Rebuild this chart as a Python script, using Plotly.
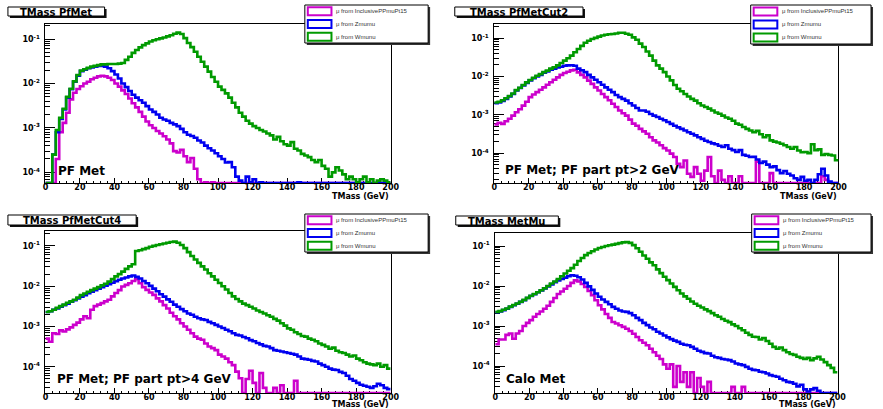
import math
import plotly.graph_objects as go

W, H = 883, 409

# ---------------- data ----------------
bin_edges = list(range(0, 202, 2))          # 100 bins of 2 GeV, 0..200
x_tick_vals = list(range(0, 201, 20))
y_tick_vals = [1e-4, 1e-3, 1e-2, 1e-1]
y_tick_text = ["10<sup>-4</sup>", "10<sup>-3</sup>", "10<sup>-2</sup>", "10<sup>-1</sup>"]
legend_labels = ["\u03bc from InclusivePPmuPt15", "\u03bc from Zmumu", "\u03bc from Wmunu"]
panel_titles = ["TMass PfMet", "TMass PfMetCut2", "TMass PfMetCut4", "TMass MetMu"]
panel_notes = ["PF Met", "PF Met; PF part pt>2 GeV", "PF Met; PF part pt>4 GeV", "Calo Met"]
x_title = "TMass (GeV)"

pfmet_incl = [
    0, 0, 0, 2e-4, 8e-4, 1.3e-3, 2.2e-3, 4.4e-3, 6.2e-3, 7.5e-3,
    8.7e-3, 1.0e-2, 1.1e-2, 1.25e-2, 1.35e-2, 1.45e-2, 1.5e-2, 1.45e-2, 1.35e-2, 1.2e-2,
    1.0e-2, 8.5e-3, 7.0e-3, 5.8e-3, 4.6e-3, 3.6e-3, 2.9e-3, 2.3e-3, 1.8e-3, 1.4e-3,
    1.15e-3, 1.0e-3, 8.5e-4, 7.5e-4, 6.5e-4, 5.5e-4, 4.5e-4, 3.0e-4, 2.8e-4, 3.2e-4,
    2.3e-4, 1.7e-4, 2.1e-4, 1.2e-4, 7e-5, 0, 6e-5, 0, 6e-5, 0,
    0, 0, 0, 0, 0, 0, 0, 0, 0, 0,
    0, 0, 0, 0, 0, 0, 0, 0, 0, 0,
    0, 0, 0, 0, 0, 0, 0, 0, 0, 0,
    0, 0, 0, 0, 0, 0, 0, 0, 0, 0,
    0, 0, 0, 0, 0, 0, 0, 0, 0, 0,
]
pfmet_z = [
    0, 0, 2.5e-4, 8e-4, 1.6e-3, 2.6e-3, 4.8e-3, 7.4e-3, 1.1e-2, 1.5e-2,
    1.9e-2, 2.05e-2, 2.2e-2, 2.3e-2, 2.4e-2, 2.5e-2, 2.5e-2, 2.4e-2, 2.2e-2, 1.9e-2,
    1.6e-2, 1.3e-2, 1.0e-2, 8.3e-3, 6.8e-3, 5.6e-3, 4.8e-3, 4.2e-3, 3.7e-3, 3.1e-3,
    2.6e-3, 2.3e-3, 2.0e-3, 1.7e-3, 1.55e-3, 1.45e-3, 1.3e-3, 1.2e-3, 1.1e-3, 9.5e-4,
    8e-4, 7e-4, 6.6e-4, 6e-4, 5.2e-4, 4.7e-4, 4.0e-4, 3.5e-4, 3.1e-4, 2.7e-4,
    2.3e-4, 2.0e-4, 1.66e-4, 1.7e-4, 1.3e-4, 8e-5, 6.5e-5, 0, 8e-5, 6e-5,
    7e-5, 0, 6e-5, 0, 0, 0, 0, 0, 0, 0,
    0, 0, 0, 6e-5, 0, 0, 0, 0, 0, 0,
    0, 0, 0, 0, 0, 0, 0, 0, 0, 0,
    0, 0, 0, 0, 0, 0, 0, 0, 0, 0,
]
pfmet_w = [
    0, 0, 2.5e-4, 9e-4, 1.7e-3, 2.7e-3, 5.0e-3, 7.6e-3, 1.12e-2, 1.55e-2,
    1.95e-2, 2.1e-2, 2.25e-2, 2.4e-2, 2.5e-2, 2.6e-2, 2.7e-2, 2.7e-2, 2.75e-2, 2.75e-2,
    2.75e-2, 2.8e-2, 2.9e-2, 3.4e-2, 4.0e-2, 4.9e-2, 5.7e-2, 6.5e-2, 7.3e-2, 8.0e-2,
    8.8e-2, 9.4e-2, 9.9e-2, 1.04e-1, 1.09e-1, 1.15e-1, 1.22e-1, 1.32e-1, 1.4e-1, 1.3e-1,
    1.05e-1, 8.2e-2, 6.6e-2, 5.2e-2, 4.0e-2, 3.1e-2, 2.4e-2, 1.85e-2, 1.4e-2, 1.1e-2,
    8.5e-3, 7.2e-3, 6.0e-3, 4.8e-3, 3.7e-3, 2.9e-3, 2.2e-3, 1.8e-3, 1.45e-3, 1.25e-3,
    1.1e-3, 1.0e-3, 9.0e-4, 8.3e-4, 7.5e-4, 6.8e-4, 5.5e-4, 6.3e-4, 5.0e-4, 4.3e-4,
    4.0e-4, 4.8e-4, 3.4e-4, 3.1e-4, 2.6e-4, 2.4e-4, 2.2e-4, 1.9e-4, 1.7e-4, 1.9e-4,
    1.4e-4, 1.2e-4, 8e-5, 1.0e-4, 1.3e-4, 1.1e-4, 9e-5, 7e-5, 8e-5, 7e-5,
    6e-5, 7e-5, 8e-5, 6e-5, 7e-5, 0, 6.5e-5, 7e-5, 6.5e-5, 6e-5,
]

cut2_incl = [
    5.6e-4, 6.2e-4, 5.8e-4, 6.8e-4, 7.9e-4, 9.5e-4, 1.17e-3, 1.4e-3, 1.74e-3, 2.2e-3,
    2.9e-3, 3.4e-3, 3.9e-3, 4.5e-3, 5.2e-3, 6.1e-3, 7.1e-3, 8.2e-3, 9.5e-3, 1.1e-2,
    1.23e-2, 1.33e-2, 1.44e-2, 1.5e-2, 1.28e-2, 1.1e-2, 9.5e-3, 7.8e-3, 6.4e-3, 5.2e-3,
    4.3e-3, 3.5e-3, 2.9e-3, 2.4e-3, 1.95e-3, 1.6e-3, 1.3e-3, 1.1e-3, 9.5e-4, 7.5e-4,
    5.9e-4, 5.2e-4, 4.3e-4, 3.7e-4, 3.2e-4, 2.6e-4, 2.15e-4, 1.9e-4, 1.6e-4, 1.35e-4,
    1.17e-4, 9.7e-5, 7.9e-5, 5.3e-5, 4.3e-5, 6.4e-5, 2.9e-5, 2.4e-5, 4.3e-5, 2.9e-5,
    1.9e-5, 3.5e-5, 7.9e-5, 2.5e-5, 0, 3.5e-5, 2.0e-5, 0, 2.5e-5, 0,
    0, 2.5e-5, 0, 0, 0, 0, 6e-5, 0, 0, 0,
    3e-5, 0, 0, 0, 0, 0, 0, 0, 0, 0,
    0, 0, 0, 0, 0, 2.5e-5, 2.0e-5, 0, 0, 0,
]
cut2_z = [
    2.0e-3, 2.1e-3, 2.3e-3, 2.6e-3, 3.0e-3, 3.5e-3, 4.3e-3, 5.0e-3, 5.8e-3, 6.8e-3,
    7.9e-3, 9.0e-3, 1.0e-2, 1.1e-2, 1.25e-2, 1.35e-2, 1.5e-2, 1.6e-2, 1.72e-2, 1.8e-2,
    1.9e-2, 1.95e-2, 1.97e-2, 1.9e-2, 1.6e-2, 1.45e-2, 1.3e-2, 1.1e-2, 9.5e-3, 8.2e-3,
    7.1e-3, 6.1e-3, 5.2e-3, 4.5e-3, 3.9e-3, 3.3e-3, 2.9e-3, 2.6e-3, 2.35e-3, 2.0e-3,
    1.75e-3, 1.5e-3, 1.3e-3, 1.3e-3, 1.2e-3, 1.05e-3, 9.5e-4, 8.8e-4, 7.9e-4, 7.2e-4,
    6.5e-4, 5.8e-4, 5.2e-4, 4.7e-4, 4.3e-4, 3.9e-4, 3.5e-4, 3.2e-4, 2.9e-4, 2.6e-4,
    2.35e-4, 2.1e-4, 1.95e-4, 1.8e-4, 1.7e-4, 1.55e-4, 1.45e-4, 1.6e-4, 1.3e-4, 1.2e-4,
    1.07e-4, 1.2e-4, 9e-5, 8.5e-5, 7.9e-5, 8.0e-5, 6.8e-5, 5.5e-5, 6e-5, 5e-5,
    4.3e-5, 4.5e-5, 3.6e-5, 3.0e-5, 3.4e-5, 2.9e-5, 2.6e-5, 2.2e-5, 2.0e-5, 2.4e-5,
    1.9e-5, 2.0e-5, 0, 2.0e-5, 2.8e-5, 3.9e-5, 2.6e-5, 1.8e-5, 0, 0,
]
cut2_w = [
    2.1e-3, 2.2e-3, 2.4e-3, 2.7e-3, 3.1e-3, 3.6e-3, 4.4e-3, 5.1e-3, 6.0e-3, 7.0e-3,
    8.1e-3, 9.3e-3, 1.05e-2, 1.15e-2, 1.3e-2, 1.42e-2, 1.6e-2, 1.75e-2, 1.95e-2, 2.25e-2,
    2.6e-2, 3.0e-2, 3.5e-2, 4.3e-2, 5.2e-2, 6.3e-2, 7.6e-2, 8.6e-2, 9.5e-2, 1.02e-1,
    1.1e-1, 1.17e-1, 1.23e-1, 1.27e-1, 1.29e-1, 1.33e-1, 1.38e-1, 1.38e-1, 1.3e-1, 1.23e-1,
    1.05e-1, 9.1e-2, 7.2e-2, 5.9e-2, 4.5e-2, 3.5e-2, 2.6e-2, 1.95e-2, 1.6e-2, 1.3e-2,
    1.0e-2, 7.9e-3, 6.0e-3, 4.8e-3, 4.1e-3, 3.5e-3, 3.0e-3, 2.6e-3, 2.35e-3, 2.0e-3,
    1.75e-3, 1.6e-3, 1.45e-3, 1.3e-3, 1.15e-3, 1.07e-3, 9.5e-4, 8.5e-4, 7.9e-4, 7.0e-4,
    5.9e-4, 5.5e-4, 4.8e-4, 4.3e-4, 3.9e-4, 3.5e-4, 3.8e-4, 3.1e-4, 2.6e-4, 2.9e-4,
    2.15e-4, 2.0e-4, 1.9e-4, 1.75e-4, 1.6e-4, 1.45e-4, 1.3e-4, 1.45e-4, 1.17e-4, 1.05e-4,
    1.07e-4, 1.0e-4, 1.7e-4, 1.2e-4, 1.25e-4, 9e-5, 9.5e-5, 9e-5, 8.7e-5, 6.5e-5,
]

cut4_incl = [
    5.0e-4, 4.2e-4, 6.8e-4, 6.5e-4, 8.0e-4, 7.5e-4, 8.5e-4, 9.5e-4, 1.1e-3, 1.25e-3,
    1.5e-3, 1.8e-3, 1.6e-3, 2.6e-3, 3.2e-3, 3.5e-3, 3.8e-3, 4.2e-3, 4.6e-3, 5.6e-3,
    6.8e-3, 8.0e-3, 9.8e-3, 1.08e-2, 1.18e-2, 1.35e-2, 1.5e-2, 1.18e-2, 9.5e-3, 8.1e-3,
    7.0e-3, 6.1e-3, 5.0e-3, 4.2e-3, 3.4e-3, 2.8e-3, 2.2e-3, 1.8e-3, 1.5e-3, 1.2e-3,
    1.0e-3, 8.3e-4, 6.8e-4, 5.6e-4, 5.0e-4, 4.7e-4, 3.8e-4, 3.2e-4, 2.9e-4, 2.6e-4,
    2.0e-4, 1.8e-4, 1.6e-4, 1.3e-4, 1.1e-4, 7.6e-5, 5.2e-5, 0, 5e-5, 8e-5,
    4e-5, 0, 7e-5, 3e-5, 0, 0, 3e-5, 0, 3.5e-5, 0,
    0, 0, 4.5e-5, 0, 0, 0, 0, 0, 0, 0,
    0, 0, 0, 0, 0, 0, 0, 0, 0, 0,
    0, 0, 0, 0, 0, 0, 0, 0, 0, 0,
]
cut4_z = [
    2.3e-3, 2.4e-3, 2.6e-3, 2.8e-3, 3.1e-3, 3.4e-3, 3.7e-3, 4.1e-3, 4.5e-3, 5.0e-3,
    5.5e-3, 6.0e-3, 6.7e-3, 7.3e-3, 8.0e-3, 8.7e-3, 9.5e-3, 1.03e-2, 1.12e-2, 1.22e-2,
    1.33e-2, 1.45e-2, 1.55e-2, 1.65e-2, 1.75e-2, 1.85e-2, 1.7e-2, 1.55e-2, 1.35e-2, 1.18e-2,
    1.02e-2, 8.7e-3, 7.5e-3, 6.3e-3, 5.5e-3, 4.7e-3, 4.1e-3, 3.5e-3, 3.1e-3, 2.7e-3,
    2.4e-3, 2.1e-3, 1.95e-3, 1.75e-3, 1.6e-3, 1.5e-3, 1.45e-3, 1.3e-3, 1.2e-3, 1.1e-3,
    1.0e-3, 9.2e-4, 8.3e-4, 7.6e-4, 6.8e-4, 6.2e-4, 6.0e-4, 5.5e-4, 5.1e-4, 4.6e-4,
    4.3e-4, 3.9e-4, 3.6e-4, 3.3e-4, 3.2e-4, 2.9e-4, 2.6e-4, 2.5e-4, 2.4e-4, 2.3e-4,
    2.2e-4, 2.1e-4, 2.0e-4, 1.8e-4, 1.6e-4, 1.55e-4, 1.5e-4, 1.4e-4, 1.35e-4, 1.2e-4,
    1.1e-4, 1.0e-4, 9.0e-5, 8.5e-5, 8.3e-5, 7.5e-5, 7.0e-5, 6.0e-5, 5.0e-5, 4.5e-5,
    4.0e-5, 3.6e-5, 3.4e-5, 3.2e-5, 3.0e-5, 3.3e-5, 3.8e-5, 3.5e-5, 3.0e-5, 2.8e-5,
]
cut4_w = [
    2.3e-3, 2.4e-3, 2.6e-3, 2.9e-3, 3.2e-3, 3.5e-3, 3.9e-3, 4.2e-3, 4.6e-3, 5.2e-3,
    6.0e-3, 6.6e-3, 7.3e-3, 8.0e-3, 8.7e-3, 9.5e-3, 1.05e-2, 1.15e-2, 1.3e-2, 1.5e-2,
    1.75e-2, 2.0e-2, 2.3e-2, 2.7e-2, 3.1e-2, 3.5e-2, 7.5e-2, 7.8e-2, 8.3e-2, 8.8e-2,
    9.5e-2, 1.0e-1, 1.05e-1, 1.1e-1, 1.15e-1, 1.2e-1, 1.25e-1, 1.28e-1, 1.2e-1, 1.05e-1,
    8.8e-2, 7.0e-2, 5.6e-2, 4.6e-2, 3.8e-2, 3.1e-2, 2.6e-2, 2.1e-2, 1.75e-2, 1.45e-2,
    1.2e-2, 1.0e-2, 8.3e-3, 6.8e-3, 5.6e-3, 4.8e-3, 4.2e-3, 3.7e-3, 3.4e-3, 3.1e-3,
    2.8e-3, 2.5e-3, 2.3e-3, 2.1e-3, 1.9e-3, 1.75e-3, 1.55e-3, 1.4e-3, 1.2e-3, 1.05e-3,
    9.0e-4, 8.3e-4, 7.2e-4, 6.5e-4, 5.8e-4, 5.6e-4, 5.0e-4, 4.7e-4, 4.3e-4, 3.8e-4,
    3.5e-4, 3.2e-4, 2.8e-4, 3.0e-4, 2.5e-4, 2.3e-4, 2.2e-4, 2.0e-4, 1.8e-4, 1.9e-4,
    1.6e-4, 1.45e-4, 1.3e-4, 1.2e-4, 1.15e-4, 1.1e-4, 1.2e-4, 1.0e-4, 1.1e-4, 9e-5,
]

metmu_incl = [
    3.5e-4, 4.6e-4, 4.6e-4, 6.0e-4, 6.5e-4, 4.8e-4, 6.5e-4, 7.5e-4, 1.0e-3, 1.2e-3,
    1.4e-3, 1.7e-3, 2.0e-3, 2.3e-3, 2.7e-3, 3.2e-3, 4.0e-3, 5.0e-3, 6.3e-3, 7.3e-3,
    8.5e-3, 1.0e-2, 1.2e-2, 1.38e-2, 1.3e-2, 1.12e-2, 9.4e-3, 7.5e-3, 5.9e-3, 4.4e-3,
    3.3e-3, 2.6e-3, 2.0e-3, 1.6e-3, 1.26e-3, 1.15e-3, 1.04e-3, 9.5e-4, 8.5e-4, 7.5e-4,
    6.4e-4, 5.3e-4, 4.4e-4, 3.8e-4, 3.3e-4, 2.7e-4, 2.2e-4, 1.8e-4, 1.5e-4, 1.1e-4,
    8.5e-5, 1.1e-4, 3e-5, 1.0e-4, 4e-5, 7e-5, 3e-5, 7e-5, 0, 5e-5,
    3e-5, 0, 4e-5, 0, 0, 0, 0, 0, 0, 3e-5,
    0, 0, 3e-5, 0, 0, 0, 0, 0, 0, 0,
    0, 0, 0, 0, 0, 0, 0, 0, 0, 0,
    0, 0, 0, 0, 0, 0, 0, 0, 0, 0,
]
metmu_z = [
    2.2e-3, 2.3e-3, 2.5e-3, 2.7e-3, 3.0e-3, 3.3e-3, 3.6e-3, 4.0e-3, 4.4e-3, 5.0e-3,
    5.6e-3, 6.2e-3, 7.0e-3, 7.7e-3, 8.7e-3, 9.8e-3, 1.1e-2, 1.25e-2, 1.38e-2, 1.5e-2,
    1.62e-2, 1.75e-2, 1.85e-2, 1.8e-2, 1.65e-2, 1.45e-2, 1.2e-2, 9.8e-3, 8.0e-3, 6.5e-3,
    5.4e-3, 4.6e-3, 4.0e-3, 3.5e-3, 3.0e-3, 2.7e-3, 2.45e-3, 2.3e-3, 2.25e-3, 2.1e-3,
    1.85e-3, 1.6e-3, 1.4e-3, 1.2e-3, 1.05e-3, 9.2e-4, 8.3e-4, 7.2e-4, 6.5e-4, 5.8e-4,
    5.2e-4, 4.7e-4, 4.3e-4, 4.0e-4, 3.6e-4, 3.4e-4, 3.3e-4, 3.0e-4, 2.7e-4, 2.4e-4,
    2.25e-4, 2.1e-4, 2.05e-4, 1.8e-4, 1.65e-4, 1.6e-4, 1.5e-4, 1.45e-4, 1.4e-4, 1.3e-4,
    1.15e-4, 1.1e-4, 1.05e-4, 9.5e-5, 8.5e-5, 8.0e-5, 7.8e-5, 7.2e-5, 7.0e-5, 6.5e-5,
    5.9e-5, 5.6e-5, 5.4e-5, 4.8e-5, 4.4e-5, 4.0e-5, 3.9e-5, 3.6e-5, 3.1e-5, 3.4e-5,
    2.6e-5, 2.3e-5, 2.6e-5, 2.8e-5, 2.4e-5, 0, 0, 0, 0, 0,
]
metmu_w = [
    2.25e-3, 2.35e-3, 2.55e-3, 2.75e-3, 3.05e-3, 3.35e-3, 3.65e-3, 4.05e-3, 4.5e-3, 5.05e-3,
    5.7e-3, 6.3e-3, 7.0e-3, 7.8e-3, 8.8e-3, 1.0e-2, 1.15e-2, 1.3e-2, 1.5e-2, 1.75e-2,
    2.05e-2, 2.4e-2, 2.8e-2, 3.4e-2, 4.2e-2, 5.0e-2, 5.9e-2, 6.7e-2, 7.4e-2, 8.2e-2,
    8.9e-2, 9.4e-2, 1.0e-1, 1.04e-1, 1.08e-1, 1.13e-1, 1.18e-1, 1.23e-1, 1.26e-1, 1.2e-1,
    1.05e-1, 8.8e-2, 7.2e-2, 5.8e-2, 4.8e-2, 3.9e-2, 3.3e-2, 2.6e-2, 2.1e-2, 1.7e-2,
    1.4e-2, 1.15e-2, 9.5e-3, 7.8e-3, 6.5e-3, 5.5e-3, 4.8e-3, 4.1e-3, 3.6e-3, 3.2e-3,
    2.9e-3, 2.6e-3, 2.35e-3, 2.1e-3, 1.85e-3, 1.7e-3, 1.5e-3, 1.35e-3, 1.25e-3, 1.1e-3,
    1.0e-3, 8.8e-4, 7.8e-4, 6.8e-4, 6.0e-4, 5.4e-4, 5.3e-4, 4.6e-4, 5.0e-4, 4.2e-4,
    3.6e-4, 3.0e-4, 2.7e-4, 2.9e-4, 2.5e-4, 2.2e-4, 2.0e-4, 1.9e-4, 1.7e-4, 1.6e-4,
    1.5e-4, 1.6e-4, 1.4e-4, 1.55e-4, 1.7e-4, 1.45e-4, 1.25e-4, 1.05e-4, 9e-5, 7e-5,
]

# ---------------- styling / layout (pixels) ----------------
colors = ["#cc00cc", "#0000f0", "#009a00"]
FONT = "DejaVu Sans"

panels = [
    dict(series=(pfmet_incl, pfmet_z, pfmet_w), plot=(43, 24, 393, 183), yr=(-4.24, -0.66),
         title_box=(5, 7, 103, 16), legend_box=(306, 5, 431, 43), note=(54, 171), xt=13),
    dict(series=(cut2_incl, cut2_z, cut2_w), plot=(498, 24, 847, 183), yr=(-4.78, -0.63),
         title_box=(458, 7, 588, 16), legend_box=(758, 5, 880, 44), note=(507, 170), xt=13),
    dict(series=(cut4_incl, cut4_z, cut4_w), plot=(43, 231, 393, 393), yr=(-4.65, -0.63),
         title_box=(5, 215, 135, 225), legend_box=(306, 214, 431, 252), note=(53, 379), xt=11),
    dict(series=(metmu_incl, metmu_z, metmu_w), plot=(499, 233, 846, 393), yr=(-4.675, -0.675),
         title_box=(459, 216, 563, 225), legend_box=(759, 214, 880, 252), note=(508, 379), xt=11),
]


def fx(px):
    return px / W


def fy(py):
    return 1 - py / H


fig = go.Figure()
shapes = []
annotations = []
layout_axes = {}

minor_y_all = [m * 10.0 ** e for e in range(-6, 0) for m in range(2, 10)]

for k, p in enumerate(panels, start=1):
    x0, y0, x1, y1 = p["plot"]
    ylo, yhi = p["yr"]
    floor = 10 ** ylo
    xa = "x" if k == 1 else f"x{k}"
    ya = "y" if k == 1 else f"y{k}"
    for vals, col in zip(p["series"], colors):
        yv = [v if v > 0 else floor for v in vals]
        yv = yv + [yv[-1]]
        fig.add_trace(go.Scatter(
            x=bin_edges, y=yv, mode="lines", line=dict(color=col, width=2.6, shape="hv"),
            xaxis=xa, yaxis=ya, showlegend=False, hoverinfo="skip"))

    xkey = "xaxis" if k == 1 else f"xaxis{k}"
    ykey = "yaxis" if k == 1 else f"yaxis{k}"
    layout_axes[xkey] = dict(
        domain=[fx(x0), fx(x1)], anchor=ya, range=[0, 200],
        tickmode="array", tickvals=x_tick_vals, ticks="inside", ticklen=5, tickwidth=1,
        tickcolor="black",
        minor=dict(tickmode="linear", tick0=0, dtick=4, ticks="inside", ticklen=2.5,
                   tickcolor="black", tickwidth=1),
        showline=True, linecolor="black", linewidth=1, mirror=True, showgrid=False,
        zeroline=False, layer="below traces", ticklabelstandoff=-4,
        tickfont=dict(family=FONT, size=8, color="black", weight="bold"))
    layout_axes[ykey] = dict(
        domain=[fy(y1), fy(y0)], anchor=xa, type="log", range=[ylo, yhi],
        tickmode="array", tickvals=y_tick_vals, ticktext=y_tick_text,
        ticks="inside", ticklen=10, tickwidth=1, tickcolor="black",
        minor=dict(tickmode="array",
                   tickvals=[v for v in minor_y_all if ylo < math.log10(v) < yhi],
                   ticks="inside", ticklen=5, tickcolor="black", tickwidth=1),
        showline=True, linecolor="black", linewidth=1, mirror=True, showgrid=False,
        zeroline=False, layer="below traces", ticklabelstandoff=3,
        tickfont=dict(family=FONT, size=8, color="black", weight="bold"))

    # axis title
    annotations.append(dict(
        text=x_title, x=fx(x1 - 1), y=fy(y1 + p["xt"]), xref="paper", yref="paper",
        xanchor="right", yanchor="middle", showarrow=False, borderpad=0,
        font=dict(family=FONT, size=8, color="black", weight="bold")))

    # title box with shadow
    tx0, ty0, tx1, ty1 = p["title_box"]
    shapes.append(dict(type="rect", xref="paper", yref="paper",
                       x0=fx(tx0 + 2), x1=fx(tx1 + 2), y0=fy(ty1 + 2), y1=fy(ty0 + 2),
                       fillcolor="#111111", line=dict(width=0), layer="above"))
    shapes.append(dict(type="rect", xref="paper", yref="paper",
                       x0=fx(tx0), x1=fx(tx1), y0=fy(ty1), y1=fy(ty0),
                       fillcolor="white", line=dict(color="black", width=1), layer="above"))
    annotations.append(dict(
        text=panel_titles[k - 1], x=fx((tx0 + tx1) / 2), y=fy((ty0 + ty1) / 2 + 0.5),
        xref="paper", yref="paper", xanchor="center", yanchor="middle", showarrow=False,
        font=dict(family=FONT, size=10, color="black", weight="bold")))

    # legend box with shadow
    lx0, ly0, lx1, ly1 = p["legend_box"]
    shapes.append(dict(type="rect", xref="paper", yref="paper",
                       x0=fx(lx0 + 2), x1=fx(lx1 + 2), y0=fy(ly1 + 2), y1=fy(ly0 + 2),
                       fillcolor="#333333", line=dict(width=0), layer="above"))
    shapes.append(dict(type="rect", xref="paper", yref="paper",
                       x0=fx(lx0), x1=fx(lx1), y0=fy(ly1), y1=fy(ly0),
                       fillcolor="white", line=dict(color="black", width=1), layer="above"))
    row_h = (ly1 - ly0) / 3.0
    for i, (lab, col) in enumerate(zip(legend_labels, colors)):
        cy = ly0 + row_h * (i + 0.5)
        shapes.append(dict(type="rect", xref="paper", yref="paper",
                           x0=fx(lx0 + 3), x1=fx(lx0 + 27), y0=fy(cy + 4), y1=fy(cy - 4),
                           fillcolor="white", line=dict(color=col, width=2), layer="above"))
        annotations.append(dict(
            text=lab, x=fx(lx0 + 30), y=fy(cy), xref="paper", yref="paper",
            xanchor="left", yanchor="middle", showarrow=False,
            font=dict(family="Liberation Sans", size=6, color="#333333")))

    # note text
    nx, ny = p["note"]
    annotations.append(dict(
        text=panel_notes[k - 1], x=fx(nx), y=fy(ny), xref="paper", yref="paper",
        xanchor="left", yanchor="middle", showarrow=False,
        font=dict(family=FONT, size=12, color="black", weight="bold")))

fig.update_layout(
    width=W, height=H, margin=dict(l=0, r=0, t=0, b=0),
    paper_bgcolor="white", plot_bgcolor="white", showlegend=False,
    shapes=shapes, annotations=annotations, **layout_axes)

fig.write_html("out.html")
